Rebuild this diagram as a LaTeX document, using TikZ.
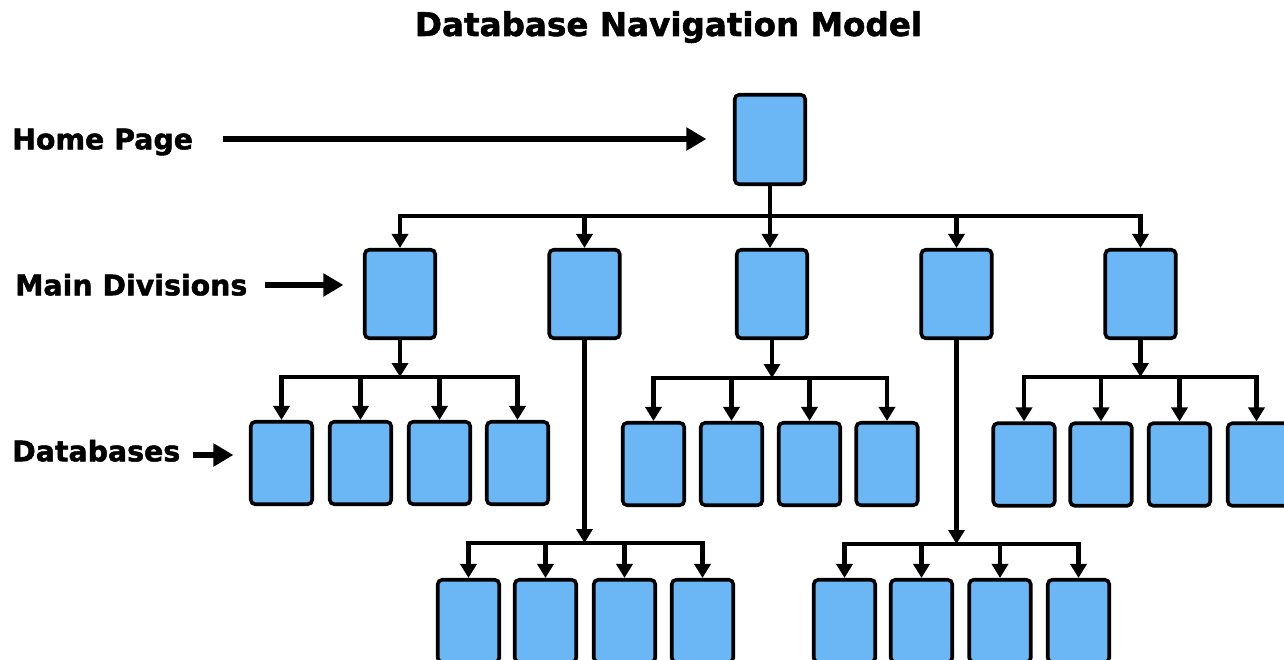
\documentclass[tikz,border=0pt]{standalone}
\usepackage{fontspec}
\setmainfont{DejaVu Sans}
\newfontfamily\heavy{DejaVu Sans Bold}[FakeBold=1.6]
\usetikzlibrary{arrows.meta}
\definecolor{boxblue}{HTML}{6BB6F4}
\begin{document}
\begin{tikzpicture}[x=1pt,y=-1pt,
  box/.style={draw=black, fill=boxblue, line width=3.6pt, rounded corners=4.5pt, inner sep=0pt},
  hbox/.style={box, minimum width=70.5pt, minimum height=89.5pt},
  mbox/.style={box, minimum width=70.5pt, minimum height=88.5pt},
  dbox/.style={box, minimum width=61.5pt, minimum height=82.5pt},
  wire/.style={line width=4.8pt, line cap=rect},
  conn/.style={line width=4.8pt, -{Triangle[width=16pt,length=14pt]}},
  lbl/.style={font=\heavy\fontsize{28.4}{30}\selectfont, anchor=west, inner sep=0pt, text height=20.7pt, text depth=0pt},
  lblarrow/.style={line width=6.5pt, -{Triangle[width=22pt,length=20pt]}}]
\useasboundingbox (0,0) rectangle (1284,660);

% title
\node[font=\heavy\fontsize{32.6}{36}\selectfont, anchor=base, inner sep=0pt] (title) at (668.5,36) {Database Navigation Model};

% labels
\node[lbl] (lhome) at (12,139) {Home Page};
\node[lbl] (lmain) at (15,285) {Main Divisions};
\node[lbl] (ldb) at (12,451) {Databases};

% home
\node[hbox] (home) at (770,139.5) {};

% main divisions
\node[mbox] (m1) at (400,294) {};
\node[mbox] (m2) at (584.5,294) {};
\node[mbox] (m3) at (772,294) {};
\node[mbox] (m4) at (956.5,294) {};
\node[mbox] (m5) at (1140.5,294) {};

% database row
\node[dbox] (a1) at (281.5,463) {};
\node[dbox] (a2) at (360.5,463) {};
\node[dbox] (a3) at (439.5,463) {};
\node[dbox] (a4) at (517.5,463) {};

\node[dbox] (b1) at (653.5,464) {};
\node[dbox] (b2) at (731.5,464) {};
\node[dbox] (b3) at (809.5,464) {};
\node[dbox] (b4) at (887,464) {};

\node[dbox] (c1) at (1024,464.5) {};
\node[dbox] (c2) at (1101,464.5) {};
\node[dbox] (c3) at (1179.5,464.5) {};
\node[dbox] (c4) at (1258.5,464.5) {};

% bottom rows
\node[dbox] (e1) at (468.5,621) {};
\node[dbox] (e2) at (545.5,621) {};
\node[dbox] (e3) at (624.5,621) {};
\node[dbox] (e4) at (702.5,621) {};

\node[dbox] (f1) at (844.5,621) {};
\node[dbox] (f2) at (921.5,621) {};
\node[dbox] (f3) at (1000,621) {};
\node[dbox] (f4) at (1078.5,621) {};

% bus levels
\coordinate (busM) at (0,216);
\coordinate (busA) at (0,377);
\coordinate (busB) at (0,378);
\coordinate (busC) at (0,377);
\coordinate (busE) at (0,543);
\coordinate (busF) at (0,544);

% home -> main
\draw[wire] (m1.north |- busM) -- (m5.north |- busM);
\draw[conn] (home.south) -- (home.south |- m3.north);
\foreach \n in {m1,m2,m4,m5} \draw[conn] (\n.north |- busM) -- (\n.north);

% m1 -> a
\draw[conn] (m1.south) -- (m1.south |- busA);
\draw[wire] (a1.north |- busA) -- (a4.north |- busA);
\foreach \n in {a1,a2,a3,a4} \draw[conn] (\n.north |- busA) -- (\n.north);

% m3 -> b
\draw[conn] (m3.south) -- (m3.south |- busB);
\draw[wire] (b1.north |- busB) -- (b4.north |- busB);
\foreach \n in {b1,b2,b3,b4} \draw[conn] (\n.north |- busB) -- (\n.north);

% m5 -> c
\draw[conn] (m5.south) -- (m5.south |- busC);
\draw[wire] (c1.north |- busC) -- ([xshift=-2pt]c4.north |- busC);
\foreach \n in {c1,c2,c3} \draw[conn] (\n.north |- busC) -- (\n.north);
\draw[conn] ([xshift=-2pt]c4.north |- busC) -- ([xshift=-2pt]c4.north);

% m2 -> e
\draw[conn] (m2.south) -- (m2.south |- busE);
\draw[wire] (e1.north |- busE) -- (e4.north |- busE);
\foreach \n in {e1,e2,e3,e4} \draw[conn] (\n.north |- busE) -- (\n.north);

% m4 -> f
\draw[conn] (m4.south) -- (m4.south |- busF);
\draw[wire] (f1.north |- busF) -- (f4.north |- busF);
\foreach \n in {f1,f2,f3,f4} \draw[conn] (\n.north |- busF) -- (\n.north);

% label arrows
\draw[lblarrow, shorten <=30pt, shorten >=26.5pt] (lhome.east) -- (lhome.east -| home.west);
\draw[lblarrow, shorten <=18pt, shorten >=19.5pt] (lmain.east) -- (lmain.east -| m1.west);
\draw[lblarrow, shorten <=13pt, shorten >=15.5pt] ([yshift=-4pt]ldb.east) -- ([yshift=-4pt]ldb.east -| a1.west);
\end{tikzpicture}
\end{document}
